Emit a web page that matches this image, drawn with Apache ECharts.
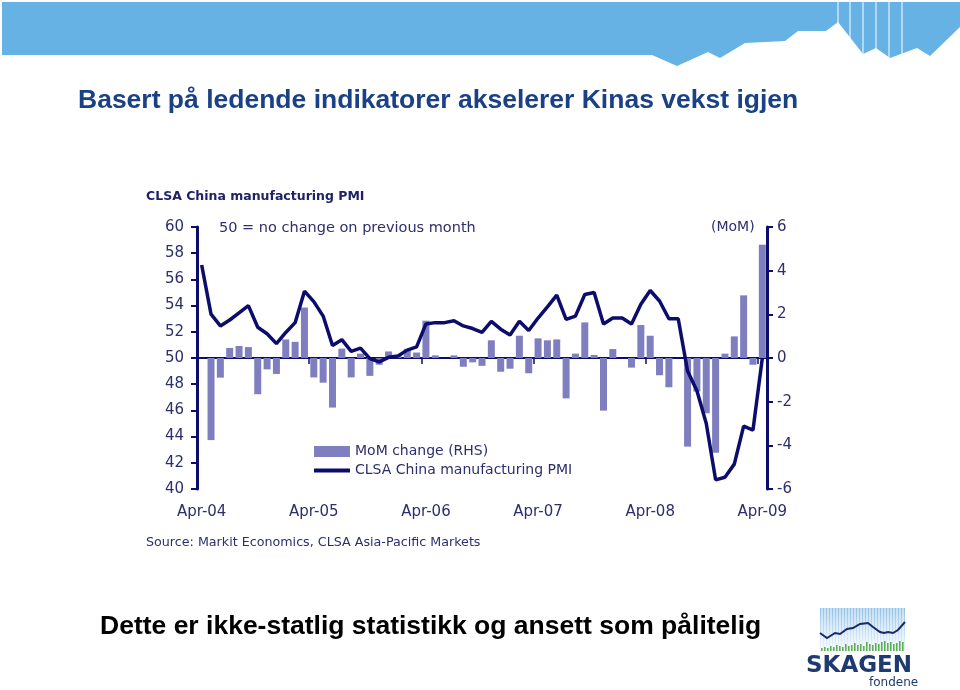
<!DOCTYPE html>
<html><head><meta charset="utf-8">
<script src="https://cdn.jsdelivr.net/npm/echarts@6/dist/echarts.min.js"></script>
<style>html,body{margin:0;padding:0;background:#fff}#c{width:960px;height:690px}</style>
</head><body><div id="c"></div>
<script>
// ---- data ----
const monthNames = ['Jan','Feb','Mar','Apr','May','Jun','Jul','Aug','Sep','Oct','Nov','Dec'];
const categories = [];
for (let i = 0; i < 61; i++) {
  const m = (3 + i) % 12, y = 4 + Math.floor((3 + i) / 12);
  categories.push(monthNames[m] + '-' + String(y).padStart(2, '0'));
}
// CLSA China manufacturing PMI, Apr-04 .. Apr-09 (left axis)
const pmi = [
  57.1, 53.35, 52.45, 52.9, 53.45, 54.0, 52.35, 51.85, 51.1, 51.95, 52.7, 55.1,
  54.3, 53.2, 50.95, 51.4, 50.5, 50.75, 49.95, 49.7, 50.05, 50.15, 50.6, 50.85,
  52.6, 52.7, 52.7, 52.85, 52.45, 52.25, 51.95, 52.8, 52.2, 51.75, 52.8, 52.1,
  53.05, 53.9, 54.8, 52.95, 53.2, 54.85, 55.0, 52.6, 53.05, 53.05, 52.6, 54.1,
  55.15, 54.35, 53.0, 53.0, 49.0, 47.5, 45.0, 40.7, 40.9, 41.9, 44.8, 44.5,
  50.0
];
// MoM change (right axis)
const mom = [
  null, -3.76, -0.90, 0.46, 0.55, 0.50, -1.66, -0.52, -0.73, 0.85, 0.74, 2.31,
  -0.89, -1.13, -2.27, 0.43, -0.89, 0.20, -0.82, -0.31, 0.30, 0.10, 0.42, 0.25,
  1.71, 0.12, 0, 0.12, -0.40, -0.20, -0.36, 0.81, -0.63, -0.49, 1.02, -0.70,
  0.90, 0.81, 0.85, -1.85, 0.20, 1.63, 0.14, -2.41, 0.41, 0, -0.44, 1.51,
  1.02, -0.79, -1.34, 0, -4.06, -1.54, -2.53, -4.34, 0.20, 0.99, 2.87, -0.31,
  5.19
];
const pmiTicks = [40, 42, 44, 46, 48, 50, 52, 54, 56, 58, 60];
const momTicks = [-6, -4, -2, 0, 2, 4, 6];

// ---- styles ----
const NAVY = '#0c0c6c';
const TXT = '#2c2f6e';
const BAR = '#7f7fc0';
const F = '"DejaVu Sans", Verdana, sans-serif';

// decorative banner + logo
const banner = [[2,2],[960,2],[960,27],[930,56],[917,48],[890,58],[876,48],[863,54],[838,22],[826,31],[798,31],[785,41],[745,43],[720,58],[708,52],[677,66],[652,55],[2,55]];
const gfx = [
  { type: 'polygon', shape: { points: banner }, style: { fill: '#66b2e4' }, silent: true }
];
[838, 850, 863, 876, 889, 902].forEach(x => gfx.push({ type: 'line', shape: { x1: x, y1: 2, x2: x, y2: 60 }, style: { stroke: '#ffffff', lineWidth: 1 }, silent: true }));
// logo
gfx.push({ type: 'rect', shape: { x: 820, y: 608, width: 85, height: 43 }, style: { fill: new echarts.graphic.LinearGradient(0, 0, 0, 1, [{ offset: 0, color: '#8ec0e8' }, { offset: 1, color: '#f2f8fd' }]) }, silent: true });
for (let x = 822; x < 905; x += 3) gfx.push({ type: 'line', shape: { x1: x, y1: 608, x2: x, y2: 651 }, style: { stroke: '#ffffff', lineWidth: 1 }, silent: true });
const greenH = [3,4,3,5,4,6,5,4,7,5,6,8,6,7,5,9,7,6,8,7,9,10,8,9,7,8,10,9];
greenH.forEach((h, i) => gfx.push({ type: 'rect', shape: { x: 821 + i * 3, y: 651 - h, width: 1.6, height: h }, style: { fill: '#5caf4f' }, silent: true }));
gfx.push({ type: 'polyline', shape: { points: [[820,633],[827,638],[835,633],[840,634],[847,629],[853,628],[860,624],[868,623],[873,627],[880,632],[884,633],[888,632],[893,633],[898,630],[905,622]] }, style: { stroke: '#1a2a66', lineWidth: 2, fill: null }, silent: true });
gfx.push({ type: 'text', x: 806, y: 666, style: { text: 'SKAGEN', font: 'bold 23px "DejaVu Sans"', fill: '#1e3a70', verticalAlign: 'middle' } });
gfx.push({ type: 'text', x: 869, y: 683, style: { text: 'fondene', font: '12px "DejaVu Sans"', fill: '#1e3a70', verticalAlign: 'middle' } });
// texts
gfx.push({ type: 'text', x: 78, y: 101, style: { text: 'Basert på ledende indikatorer akselerer Kinas vekst igjen', font: 'bold 26.5px "Liberation Sans", Arial', fill: '#1a4186', verticalAlign: 'middle' } });
gfx.push({ type: 'text', x: 100, y: 627, style: { text: 'Dette er ikke-statlig statistikk og ansett som pålitelig', font: 'bold 26.5px "Liberation Sans", Arial', fill: '#000000', verticalAlign: 'middle' } });
gfx.push({ type: 'text', x: 146, y: 197, style: { text: 'CLSA China manufacturing PMI', font: 'bold 12.5px ' + F, fill: '#1f2366', verticalAlign: 'middle' } });
gfx.push({ type: 'text', x: 219, y: 228, style: { text: '50 = no change on previous month', font: '14.5px ' + F, fill: TXT, verticalAlign: 'middle' } });
gfx.push({ type: 'text', x: 711, y: 227, style: { text: '(MoM)', font: '14px ' + F, fill: TXT, verticalAlign: 'middle' } });
gfx.push({ type: 'text', x: 146, y: 543, style: { text: 'Source: Markit Economics, CLSA Asia-Pacific Markets', font: '12.7px ' + F, fill: TXT, verticalAlign: 'middle' } });

const chart = echarts.init(document.getElementById('c'), null, { renderer: 'canvas' });
chart.setOption({
  backgroundColor: '#ffffff',
  animation: false,
  grid: { left: 197, right: 193, top: 227, bottom: 201, containLabel: false },
  legend: {
    orient: 'vertical', left: 307, top: 439, itemWidth: 36, itemHeight: 11, itemGap: 4,
    textStyle: { fontSize: 14, fontFamily: F, color: TXT, lineHeight: 15 },
    data: [
      { name: 'MoM change (RHS)', icon: 'rect' },
      { name: 'CLSA China manufacturing PMI', itemStyle: { opacity: 0 }, lineStyle: { width: 4, color: NAVY, opacity: 1 } }
    ]
  },
  xAxis: [
    {
      type: 'category', data: categories, boundaryGap: true, position: 'bottom',
      axisLine: { show: true, onZero: true, onZeroAxisIndex: 1, lineStyle: { color: NAVY, width: 2.2 } },
      axisTick: { show: true, interval: 11, length: 6, lineStyle: { color: NAVY, width: 1.5 } },
      axisLabel: { show: false }, splitLine: { show: false }
    },
    {
      type: 'category', data: categories, boundaryGap: true, position: 'bottom',
      axisLine: { show: false, onZero: false }, axisTick: { show: false },
      axisLabel: { interval: 11, margin: 16, fontSize: 15, fontFamily: F, color: TXT },
      splitLine: { show: false }
    }
  ],
  yAxis: [
    {
      type: 'value', position: 'left', min: pmiTicks[0], max: pmiTicks[pmiTicks.length - 1], interval: pmiTicks[1] - pmiTicks[0],
      axisLine: { show: true, lineStyle: { color: NAVY, width: 3 } },
      axisTick: { show: true, length: 6, lineStyle: { color: NAVY, width: 2 } },
      axisLabel: { margin: 13, fontSize: 15, fontFamily: F, color: TXT },
      splitLine: { show: false }
    },
    {
      type: 'value', position: 'right', min: momTicks[0], max: momTicks[momTicks.length - 1], interval: momTicks[1] - momTicks[0],
      axisLine: { show: true, lineStyle: { color: NAVY, width: 3 } },
      axisTick: { show: true, length: 6, lineStyle: { color: NAVY, width: 2 } },
      axisLabel: { margin: 10, fontSize: 15, fontFamily: F, color: TXT },
      splitLine: { show: false }
    }
  ],
  series: [
    {
      name: 'MoM change (RHS)', type: 'bar', xAxisIndex: 0, yAxisIndex: 1, data: mom,
      barWidth: 7, itemStyle: { color: BAR }, z: 2
    },
    {
      name: 'CLSA China manufacturing PMI', type: 'line', xAxisIndex: 0, yAxisIndex: 0, data: pmi,
      symbol: 'none', smooth: false, lineStyle: { color: NAVY, width: 3.5 }, itemStyle: { color: NAVY }, z: 3
    }
  ],
  graphic: gfx
});
</script></body></html>
